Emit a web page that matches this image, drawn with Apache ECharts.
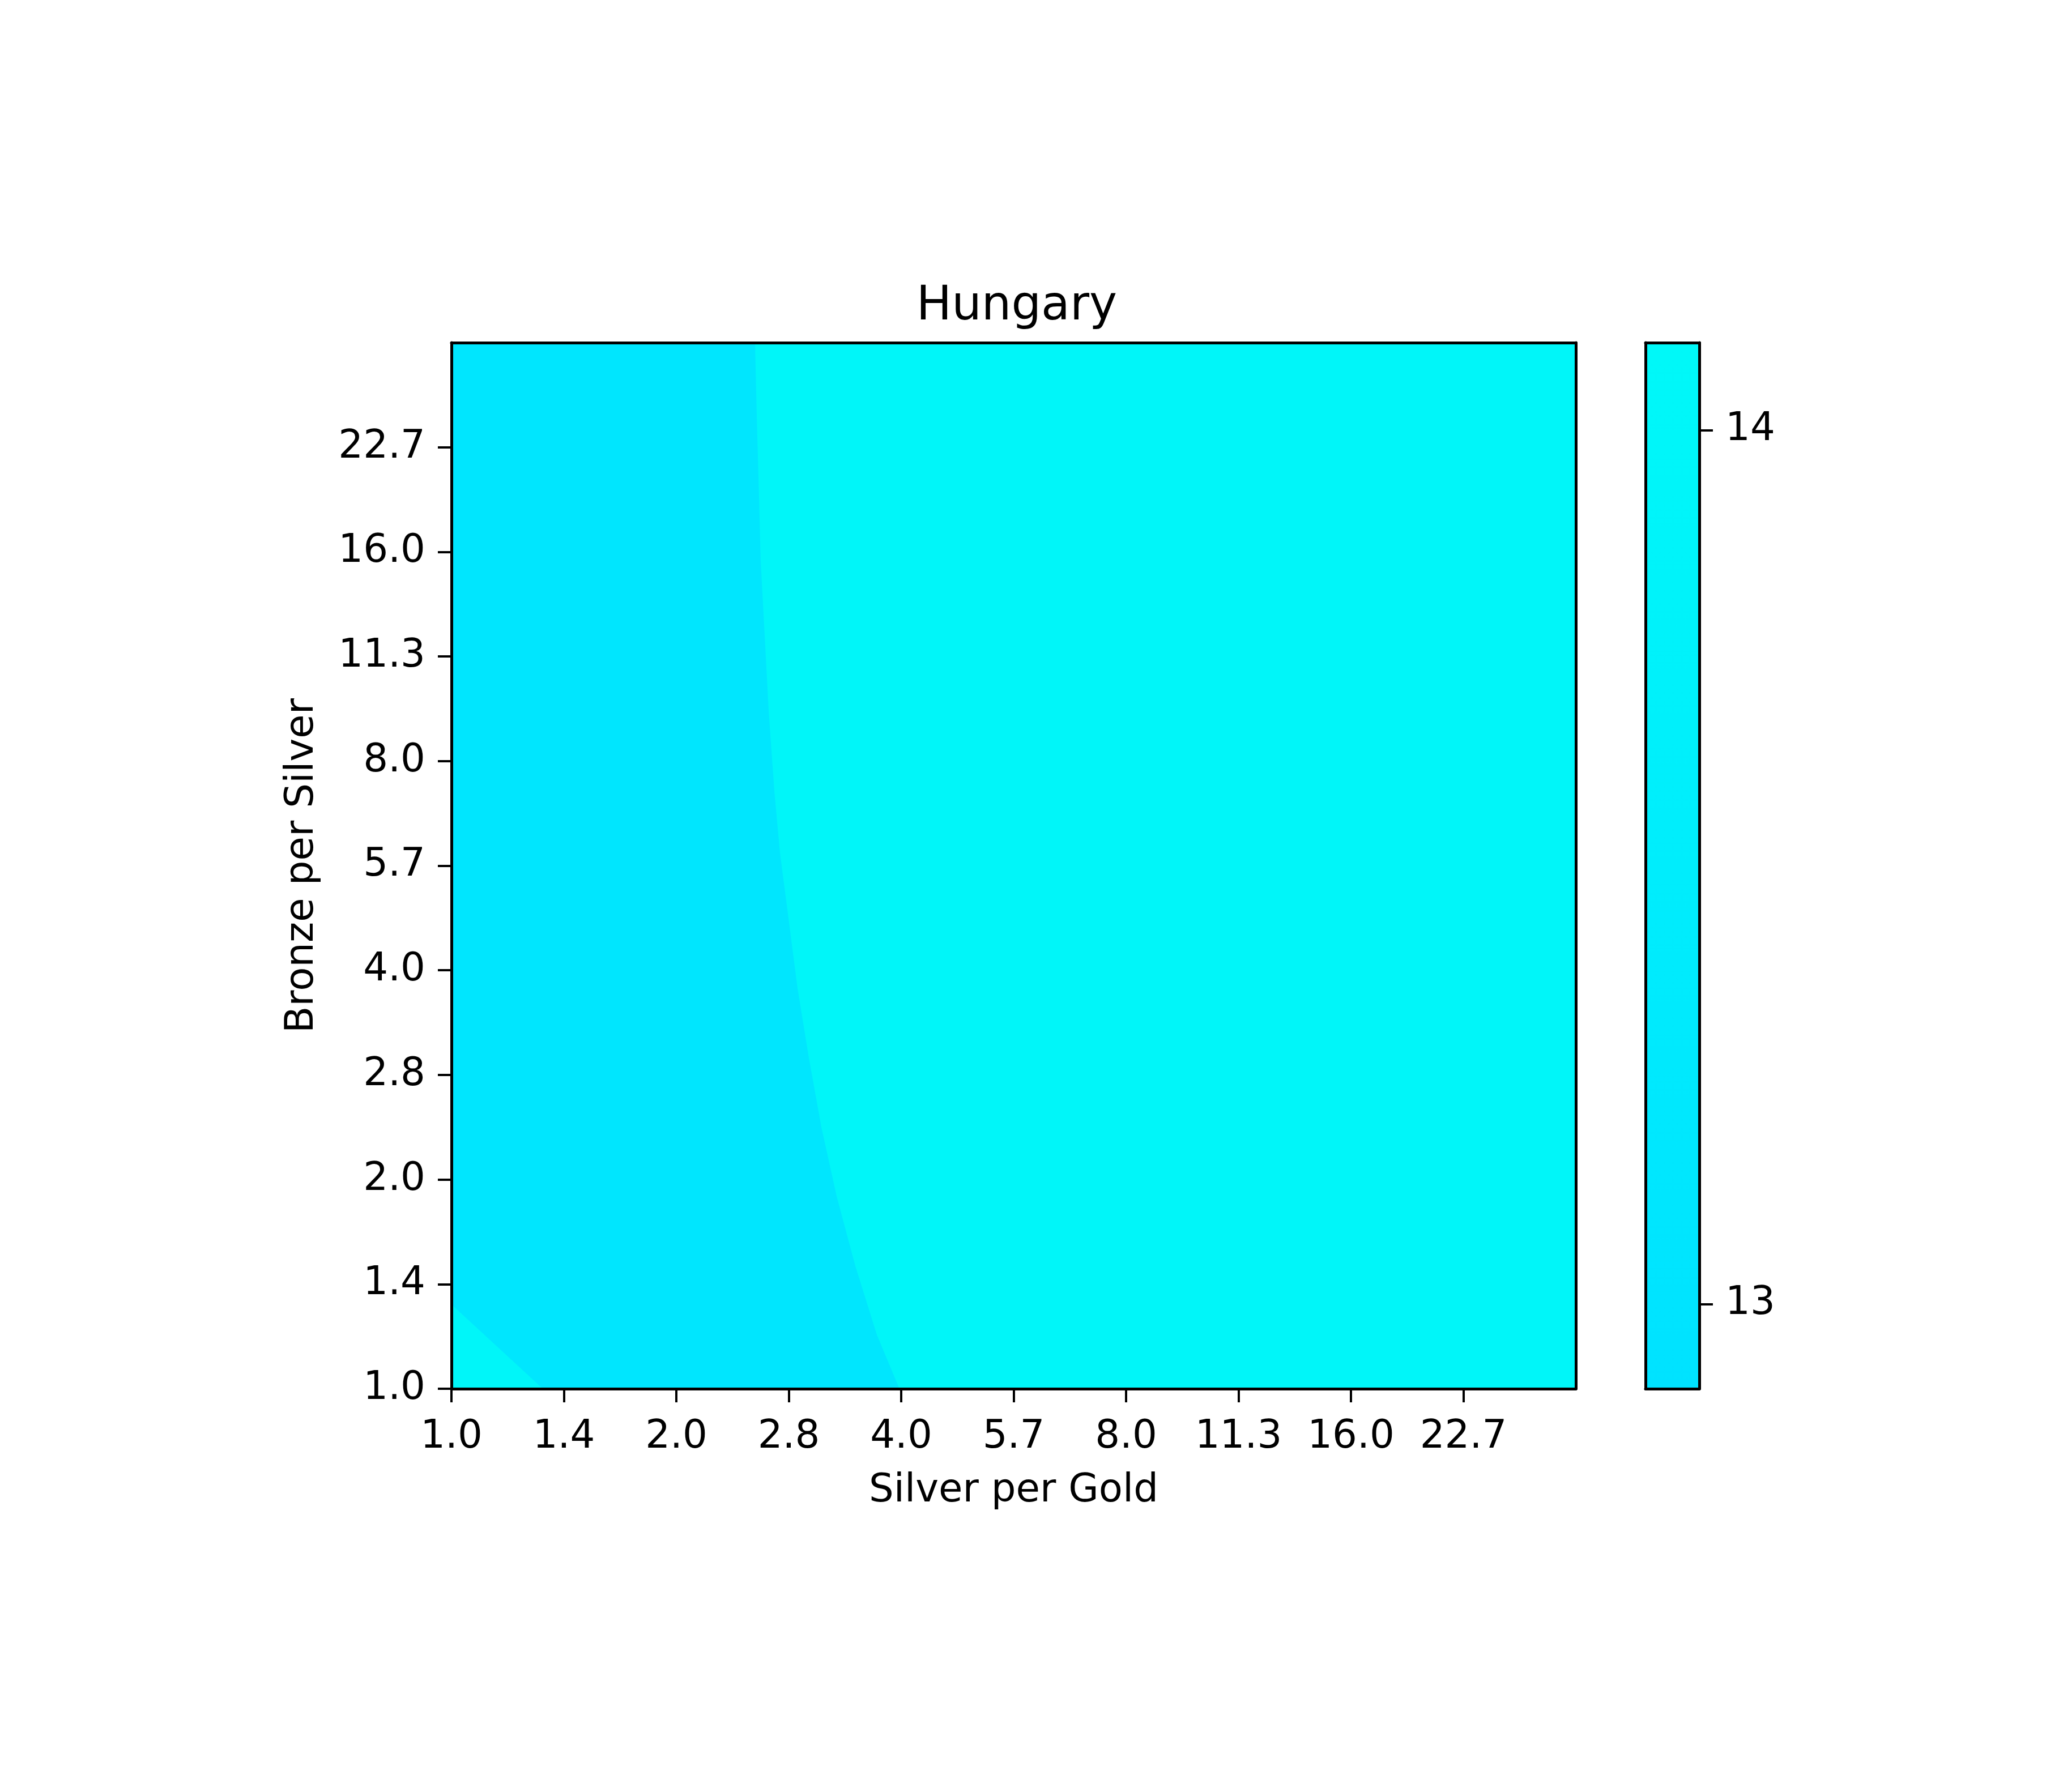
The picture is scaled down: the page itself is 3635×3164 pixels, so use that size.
<!DOCTYPE html>
<html>
<head>
<meta charset="utf-8">
<script src="https://cdn.jsdelivr.net/npm/echarts@6/dist/echarts.min.js"></script>
<style>
  html, body { margin: 0; padding: 0; background: #fff; }
  #chart { width: 3635px; height: 3164px; }
</style>
</head>
<body>
<div id="chart"></div>
<script>
// axes are log2(ratio); tick labels are the ratios
const tickPos = [0, 0.5, 1, 1.5, 2, 2.5, 3, 3.5, 4, 4.5];
const xTickLabels = ['1.0', '1.4', '2.0', '2.8', '4.0', '5.7', '8.0', '11.3', '16.0', '22.7'];
const yTickLabels = ['1.0', '1.4', '2.0', '2.8', '4.0', '5.7', '8.0', '11.3', '16.0', '22.7'];

// contour boundary between the ~13 and ~14 regions (log2 x, log2 y), top to bottom
const boundaryX = [1.350, 1.358, 1.368, 1.375, 1.393, 1.411, 1.436, 1.461, 1.499, 1.539, 1.589, 1.645, 1.713, 1.796, 1.892, 1.992];
const boundaryY = [5.000, 4.635, 4.253, 3.961, 3.598, 3.235, 2.856, 2.561, 2.247, 1.914, 1.584, 1.251, 0.920, 0.587, 0.257, 0.000];
// small corner region at bottom-left
const cornerX = [0, 0, 0.406];
const cornerY = [0, 0.403, 0];

const rightValue = 14.0;
const leftValue = 13.1;
const cornerValue = 14.0;

// colour bar
const cbarMin = 12.903, cbarMax = 14.1;
const cbarTicks = [13, 14];
const cmapValues = [12.9, 13.5, 14.1];
const cmapColors = ['#00e2ff', '#00edfc', '#00f8f8'];

function hex(c) { return [1, 3, 5].map(i => parseInt(c.substr(i, 2), 16)); }
function colorFor(v) {
  let i = 0;
  while (i < cmapValues.length - 2 && v > cmapValues[i + 1]) i++;
  const t = Math.max(0, Math.min(1, (v - cmapValues[i]) / (cmapValues[i + 1] - cmapValues[i])));
  const a = hex(cmapColors[i]), b = hex(cmapColors[i + 1]);
  return 'rgb(' + a.map((x, k) => Math.round(x + (b[k] - x) * t)).join(',') + ')';
}

const leftPts = boundaryX.map((x, i) => [x, boundaryY[i]]);
leftPts.push([cornerX[2], cornerY[2]], [cornerX[1], cornerY[1]], [0, 5]);

const regions = [
  { value: rightValue, pts: [[0, 0], [5, 0], [5, 5], [0, 5]] },
  { value: leftValue, pts: leftPts },
  { value: cornerValue, pts: cornerX.map((x, i) => [x, cornerY[i]]) }
];

const font = 'DejaVu Sans';
const txt = { color: '#000', fontFamily: font, fontSize: 69 };
const line = { show: true, onZero: false, lineStyle: { color: '#000', width: 5 } };
const tick = (vals) => ({ show: true, length: 24, customValues: vals, lineStyle: { color: '#000', width: 4 } });
const none = { show: false };

const chart = echarts.init(document.getElementById('chart'));
chart.setOption({
  backgroundColor: '#fff',
  animation: false,
  title: {
    text: 'Hungary', left: 1790, top: 496, textAlign: 'center',
    textStyle: { color: '#000', fontFamily: font, fontSize: 83, fontWeight: 'normal' }
  },
  grid: [
    { left: 797, top: 605, width: 1985, height: 1847 },
    { left: 2905, top: 605, width: 95, height: 1847 }
  ],
  xAxis: [
    {
      type: 'value', gridIndex: 0, min: 0, max: 5, position: 'bottom', z: 10,
      name: 'Silver per Gold', nameLocation: 'middle', nameGap: 147, nameTextStyle: txt,
      axisLine: line, axisTick: tick(tickPos), splitLine: none,
      axisLabel: Object.assign({ customValues: tickPos, margin: 52, formatter: v => xTickLabels[Math.round(v * 2)] || '' }, txt)
    },
    { type: 'value', gridIndex: 0, min: 0, max: 5, position: 'top', z: 10, axisLine: line, axisTick: none, axisLabel: none, splitLine: none },
    { type: 'value', gridIndex: 1, min: 0, max: 1, position: 'bottom', z: 10, axisLine: line, axisTick: none, axisLabel: none, splitLine: none },
    { type: 'value', gridIndex: 1, min: 0, max: 1, position: 'top', z: 10, axisLine: line, axisTick: none, axisLabel: none, splitLine: none }
  ],
  yAxis: [
    {
      type: 'value', gridIndex: 0, min: 0, max: 5, position: 'left', z: 10,
      name: 'Bronze per Silver', nameLocation: 'middle', nameGap: 228, nameTextStyle: txt,
      axisLine: line, axisTick: tick(tickPos), splitLine: none,
      axisLabel: Object.assign({ customValues: tickPos, margin: 46, padding: [10, 0, 0, 0], formatter: v => yTickLabels[Math.round(v * 2)] || '' }, txt)
    },
    { type: 'value', gridIndex: 0, min: 0, max: 5, position: 'right', z: 10, axisLine: line, axisTick: none, axisLabel: none, splitLine: none },
    {
      type: 'value', gridIndex: 1, min: cbarMin, max: cbarMax, position: 'right', z: 10,
      axisLine: line, axisTick: tick(cbarTicks), splitLine: none,
      axisLabel: Object.assign({ customValues: cbarTicks, margin: 46, padding: [10, 0, 0, 0], formatter: v => String(v) }, txt)
    },
    { type: 'value', gridIndex: 1, min: cbarMin, max: cbarMax, position: 'left', z: 10, axisLine: line, axisTick: none, axisLabel: none, splitLine: none }
  ],
  series: [
    {
      type: 'custom', xAxisIndex: 0, yAxisIndex: 0, silent: true, clip: true, z: 1,
      data: regions.map(r => r.pts[0]),
      renderItem: (params, api) => {
        const r = regions[params.dataIndex];
        return { type: 'polygon', shape: { points: r.pts.map(p => api.coord(p)) }, style: { fill: colorFor(r.value) } };
      }
    },
    {
      type: 'custom', xAxisIndex: 2, yAxisIndex: 2, silent: true, z: 1,
      data: [[0, cbarMin]],
      renderItem: (params, api) => {
        const p0 = api.coord([0, cbarMin]), p1 = api.coord([1, cbarMax]);
        return {
          type: 'rect',
          shape: { x: p0[0], y: p1[1], width: p1[0] - p0[0], height: p0[1] - p1[1] },
          style: {
            fill: new echarts.graphic.LinearGradient(0, 1, 0, 0,
              cmapValues.map((v, i) => ({ offset: (v - cmapValues[0]) / (cmapValues[cmapValues.length - 1] - cmapValues[0]), color: cmapColors[i] })))
          }
        };
      }
    }
  ]
});
</script>
</body>
</html>
